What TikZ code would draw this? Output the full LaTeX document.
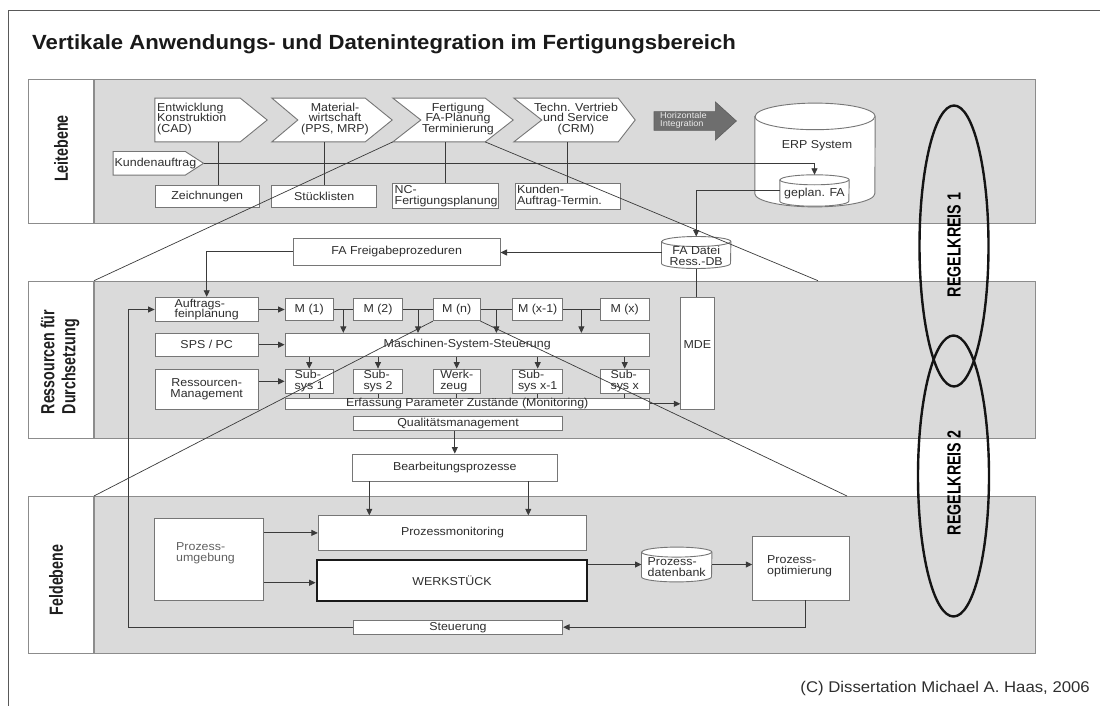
\documentclass[tikz,border=0pt]{standalone}
\usepackage{fontspec}
\setmainfont{Liberation Sans}
\newfontfamily\boxfont[FakeStretch=1.08]{Liberation Sans}
\newfontfamily\narrowfont[FakeStretch=0.75]{Liberation Sans}
\usetikzlibrary{arrows.meta,calc,shapes.geometric}

\definecolor{bandc}{HTML}{DADADA}
\definecolor{bandline}{HTML}{8C8C8C}
\definecolor{boxc}{HTML}{767676}
\definecolor{linec}{HTML}{3A3A3A}
\definecolor{txtc}{HTML}{2E2E2E}
\definecolor{hintc}{HTML}{6E6E6E}

\newcommand\boxtxt{\boxfont\fontsize{11.5}{10.8}\selectfont\lineskiplimit=-20pt\relax}
\newcommand\sidetxt{\narrowfont\bfseries\fontsize{19}{21}\selectfont}

% cylinder (database) symbol: name, centre, width, height, half width, cap radius
\newcommand\drum[6]{%
  \node[cylbody, sz={#3}{#4}] (#1) at #2 {};
  \draw[cylline] ([yshift=-#6pt]#1.north west) -- ([yshift=#6pt]#1.south west)
     arc[start angle=180, end angle=360, x radius=#5pt, y radius=#6pt]
     -- ([yshift=-#6pt]#1.north east)
     arc[start angle=0, end angle=180, x radius=#5pt, y radius=#6pt] -- cycle;
  \draw[cylline, fill=none] ([yshift=-#6pt]#1.north west)
     arc[start angle=180, end angle=360, x radius=#5pt, y radius=#6pt];
}

\tikzset{
  sz/.style 2 args={minimum width=#1pt, minimum height=#2pt},
  box/.style={draw=boxc, line width=0.9pt, fill=white, inner sep=1.5pt,
              text=txtc, font=\boxtxt, align=center},
  plain/.style={inner sep=0, text=txtc, font=\boxtxt},
  ln/.style={draw=linec, line width=0.85pt},
  arr/.style={ln, -{Triangle[length=6.5pt,width=6pt]}},
  band/.style={draw=bandline, fill=bandc, line width=1pt, inner sep=0},
  labcol/.style={draw=bandline, fill=white, line width=1pt, inner sep=0},
  side/.style={rotate=90, font=\sidetxt, text=black!88, align=left, inner sep=0},
  funnel/.style={draw=linec, line width=0.7pt},
  loopring/.style={ellipse, draw=black!92, line width=2.4pt, inner sep=0},
  cylbody/.style={inner sep=0, draw=none},
  cylline/.style={draw=boxc, line width=0.9pt, fill=white},
  chev/.style={draw=boxc, line width=0.9pt, fill=white},
}

\begin{document}
\begin{tikzpicture}[x=1pt, y=-1pt]
\useasboundingbox (0,0) rectangle (1100,706);

% frame and heading
\draw[draw=black!65, line width=1pt] (8,706) -- (8,11) -- (1100,11);
\node[inner sep=0, anchor=base west, font=\boxfont\bfseries\fontsize{20.5}{24}\selectfont,
      text=black!90] (title) at (32,49.5)
  {Vertikale Anwendungs- und Datenintegration im Fertigungsbereich};

% the three levels
\node[band, sz={941}{143.2}, anchor=north west] (lei) at (94,79.5) {};
\node[labcol, sz={65}{143.2}, anchor=north east] (leilab) at (94,79.5) {};
\node[band, sz={941}{157}, anchor=north west] (res) at (94,280.7) {};
\node[labcol, sz={65}{157}, anchor=north east] (reslab) at (94,280.7) {};
\node[band, sz={941}{157.3}, anchor=north west] (feld) at (94,496) {};
\node[labcol, sz={65}{157.3}, anchor=north east] (feldlab) at (94,496) {};

\node[side] (leit) at (61,148.5) {Leitebene};
\node[side] (rest) at (60,362) {Ressourcen für\\Durchsetzung};
\node[side] (feldt) at (56,580) {Feldebene};

% ---------------- Leitebene ----------------
\node[cylbody, sz={85}{43.4}] (ch1) at (197.5,120) {};
\draw[chev] (ch1.north west) -- (ch1.north east) -- ([xshift=27pt]ch1.east)
  -- (ch1.south east) -- (ch1.south west) -- cycle;
\node[cylbody, sz={93}{43.4}] (ch2) at (318.5,120) {};
\draw[chev] (ch2.north west) -- (ch2.north east) -- ([xshift=27pt]ch2.east)
  -- (ch2.south east) -- (ch2.south west) -- ([xshift=26pt]ch2.west) -- cycle;
\node[cylbody, sz={92}{43.4}] (ch3) at (439,120) {};
\draw[chev] (ch3.north west) -- (ch3.north east) -- ([xshift=28pt]ch3.east)
  -- (ch3.south east) -- (ch3.south west) -- ([xshift=28pt]ch3.west) -- cycle;
\node[cylbody, sz={104}{43.4}] (ch4) at (566,120) {};
\draw[chev] (ch4.north west) -- (ch4.north east) -- ([xshift=17pt]ch4.east)
  -- (ch4.south east) -- (ch4.south west) -- ([xshift=28pt]ch4.west) -- cycle;

\node[plain, align=left, anchor=west] (ch1t) at (157,119) {Entwicklung\\Konstruktion\\(CAD)};
\node[plain, align=center] (ch2t) at (335,119) {Material-\\wirtschaft\\(PPS, MRP)};
\node[plain, align=center] (ch3t) at (458,119) {Fertigung\\FA-Planung\\Terminierung};
\node[plain, align=center] (ch4t) at (576,119) {Techn. Vertrieb\\und Service\\(CRM)};

% horizontal integration arrow
\node[inner sep=0, sz={61}{18.3}, anchor=west] (hint) at (654,121) {};
\draw[draw=hintc!85!black, fill=hintc, line width=0.6pt]
  (hint.north west) -- (hint.north east) -- ([yshift=9.7pt]hint.north east)
  -- ([xshift=21pt]hint.east) -- ([yshift=-9.7pt]hint.south east)
  -- (hint.south east) -- (hint.south west) -- cycle;
\node[inner sep=0, anchor=west, align=left, text=white!92!black,
      font=\boxfont\fontsize{8.5}{8.5}\selectfont] (hintt) at (660,120.5)
  {Horizontale\\Integration};

% customer order
\node[cylbody, sz={71.7}{23.3}] (kunde) at (149.2,163.3) {};
\draw[chev] (kunde.north west) -- (kunde.north east) -- ([xshift=18.3pt]kunde.east)
  -- (kunde.south east) -- (kunde.south west) -- cycle;
\node[plain, anchor=west] (kundet) at (114.5,163.3) {Kundenauftrag};

% documents of the planning level
\node[box, sz={104.3}{22.3}] (zeich) at (207.2,196.2) {Zeichnungen};
\node[box, sz={105}{22.3}] (stueck) at (324.2,196.2) {Stücklisten};
\node[box, inner sep=2pt, text width=101.6pt, minimum height=22.3pt, align=left]
  (nc) at (445.5,196.2) {NC-\\Fertigungsplanung};
\node[box, inner sep=2pt, text width=101pt, minimum height=22.3pt, align=left]
  (kundt) at (567.5,196.2) {Kunden-\\Auftrag-Termin.};

\draw[ln] ($(zeich.north)+(11,0)$) -- ($(zeich.north |- ch1.south)+(11,0)$);
\draw[ln] (stueck.north) -- (stueck.north |- ch2.south);
\draw[ln] (nc.north) -- (nc.north |- ch3.south);
\draw[ln] (kundt.north) -- (kundt.north |- ch4.south);

% ERP system
\drum{erp}{(815,155)}{120}{103.4}{60}{13.3}
\node[plain] (erpt) at (817,146) {ERP System};
\drum{geplan}{(814.5,190.5)}{69}{31}{34.5}{5}
\node[plain] (geplant) at (814.5,194) {geplan. FA};

\draw[arr] ([xshift=18.3pt]kunde.east) -| (geplan.north);

% ---------------- Ressourcen ----------------
\drum{fadatei}{(696.2,252.5)}{69}{31.6}{34.5}{5}
\node[plain, align=center] (fadateit) at (696.2,256) {FA Datei\\Ress.-DB};
\node[box, sz={206.7}{26.7}] (frei) at (396.7,251.7) {FA Freigabeprozeduren};

\draw[arr] (geplan.west) -| (fadatei.north);
\draw[arr] (fadatei.west) -- (fadatei.west -| frei.east);

\node[box, sz={103.3}{22.4}, align=left] (auftrag) at (206.7,309.5) {Auftrags-\\feinplanung};
\node[box, sz={48.3}{22.4}] (m1) at (309.2,309.5) {M (1)};
\node[box, sz={49.4}{22.4}] (m2) at (378,309.5) {M (2)};
\node[box, sz={46.7}{22.4}] (mn) at (456.7,309.5) {M (n)};
\node[box, sz={50}{22.4}] (mx1) at (537.7,309.5) {M (x-1)};
\node[box, sz={49.3}{22.4}] (mx) at (624.7,309.5) {M (x)};

\node[box, sz={103.3}{22.7}] (sps) at (206.7,344.7) {SPS / PC};
\node[box, sz={364.3}{22.7}] (msys) at (467.2,344.7) {Maschinen-System-Steuerung};

\node[box, sz={103.3}{40}] (resman) at (206.7,389.3) {Ressourcen-\\Management};
\node[box, sz={48.3}{24}, align=left] (sub1) at (309.2,381.3) {Sub-\\sys 1};
\node[box, sz={49.4}{24}, align=left] (sub2) at (378,381.3) {Sub-\\sys 2};
\node[box, sz={46.7}{24}, align=left] (werkz) at (456.7,381.3) {Werk-\\zeug};
\node[box, sz={50}{24}, align=left] (subx1) at (537.7,381.3) {Sub-\\sys x-1};
\node[box, sz={49.3}{24}, align=left] (subx) at (624.7,381.3) {Sub-\\sys x};

\node[box, inner sep=0, sz={364.3}{11}] (erf) at (467.2,403.8)
  {Erfassung Parameter Zustände (Monitoring)};
\node[box, sz={33.3}{111.6}] (mde) at (697.4,353.5) {};
\node[plain] (mdet) at (697.4,345) {MDE};
\draw[ln] (fadatei.south) -- (fadatei.south |- mde.north);

\node[box, inner sep=0, sz={209.4}{14.7}] (qual) at (458,423.3) {Qualitätsmanagement};

\draw[arr] (frei.west) -| (auftrag.north);
\draw[arr] (auftrag.east) -- (m1.west);
\draw[arr] (sps.east) -- (sps.east -| msys.west);
\draw[arr] (sub1.west -| resman.east) -- (sub1.west);

% machines feeding the machine control
\draw[ln] (m1.east) -- (m2.west);
\draw[ln] (m2.east) -- (mn.west);
\draw[ln] (mn.east) -- (mx1.west);
\draw[ln] (mx1.east) -- (mx.west);
\coordinate (j1) at ($(m1.east)!0.5!(m2.west)$);
\coordinate (j2) at ($(m2.east)!0.5!(mn.west)$);
\coordinate (j3) at ($(mn.east)!0.5!(mx1.west)$);
\coordinate (j4) at ($(mx1.east)!0.5!(mx.west)$);
\foreach \j in {j1,j2,j3,j4}{
  \draw[arr] (\j) -- (\j |- msys.north);
}

\foreach \s in {sub1,sub2,werkz,subx1,subx}{
  \draw[arr] (\s.north |- msys.south) -- (\s.north);
  \draw[ln] (\s.south) -- (\s.south |- erf.north);
}
\draw[arr] (erf.east) -- (erf.east -| mde.west);

% ---------------- Feldebene ----------------
\node[box, sz={205}{27}] (bearb) at (454.8,467.5) {Bearbeitungsprozesse};
\draw[arr] (bearb.north |- qual.south) -- (bearb.north);

\node[box, sz={109.3}{81.7}] (penv) at (208.7,559.2) {};
\node[plain, align=left, anchor=west, text=black!62] (penvt) at (176,553) {Prozess-\\umgebung};
\node[box, sz={268.4}{34.3}] (pmon) at (452.5,532.9) {Prozessmonitoring};
\node[box, draw=black!90, line width=2.2pt, sz={270.6}{40.7}] (werk) at (452,580.4) {WERKSTÜCK};

\draw[arr] (pmon.west -| penv.east) -- (pmon.west);
\draw[arr] ([yshift=-2.3pt]werk.west -| penv.east) -- ([yshift=-2.3pt]werk.west);
\draw[arr] ($(bearb.south)+(-85.5,0)$) -- ($(bearb.south |- pmon.north)+(-85.5,0)$);
\draw[arr] ($(bearb.south)+(73.5,0)$) -- ($(bearb.south |- pmon.north)+(73.5,0)$);

\drum{pdb}{(676.7,564.5)}{70}{34.4}{35}{5}
\node[plain, align=left] (pdbt) at (676.7,567) {Prozess-\\datenbank};
\node[box, sz={96.6}{64}] (popt) at (801,568) {};
\node[plain, align=left, anchor=west] (poptt) at (767,566) {Prozess-\\optimierung};

\draw[arr] (pdb.west -| werk.east) -- (pdb.west);
\draw[arr] (pdb.east) -- (pdb.east -| popt.west);

\node[box, inner sep=0, sz={209.4}{14.3}] (steu) at (458,627.2) {Steuerung};
\draw[arr] ($(popt.south)+(4,0)$) |- (steu.east);
\coordinate (fb) at (128.3,627.2);
\draw[arr] (steu.west) -- (fb) |- (auftrag.west);

% zoom lines between the levels
\coordinate (f1r) at (818,280.7);
\coordinate (f2r) at (847,496);
\draw[funnel] (ch3.south west) -- (res.north west);
\draw[funnel] (ch3.south east) -- (f1r);
\draw[funnel] (mn.south west) -- (feld.north west);
\draw[funnel] (mn.south east) -- (f2r);

% control loops
\node[loopring, sz={69}{281}] (rk1) at (954,246) {};
\node[loopring, sz={71}{281}] (rk2) at (953.5,476) {};
\node[side, text=black] (rk1t) at (954,245) {REGELKREIS 1};
\node[side, text=black] (rk2t) at (954,483) {REGELKREIS 2};

% footer
\node[inner sep=0, anchor=base east, font=\boxfont\fontsize{15.5}{17}\selectfont,
      text=txtc] (copy) at (1090,692) {(C) Dissertation Michael A. Haas, 2006};
\end{tikzpicture}
\end{document}
